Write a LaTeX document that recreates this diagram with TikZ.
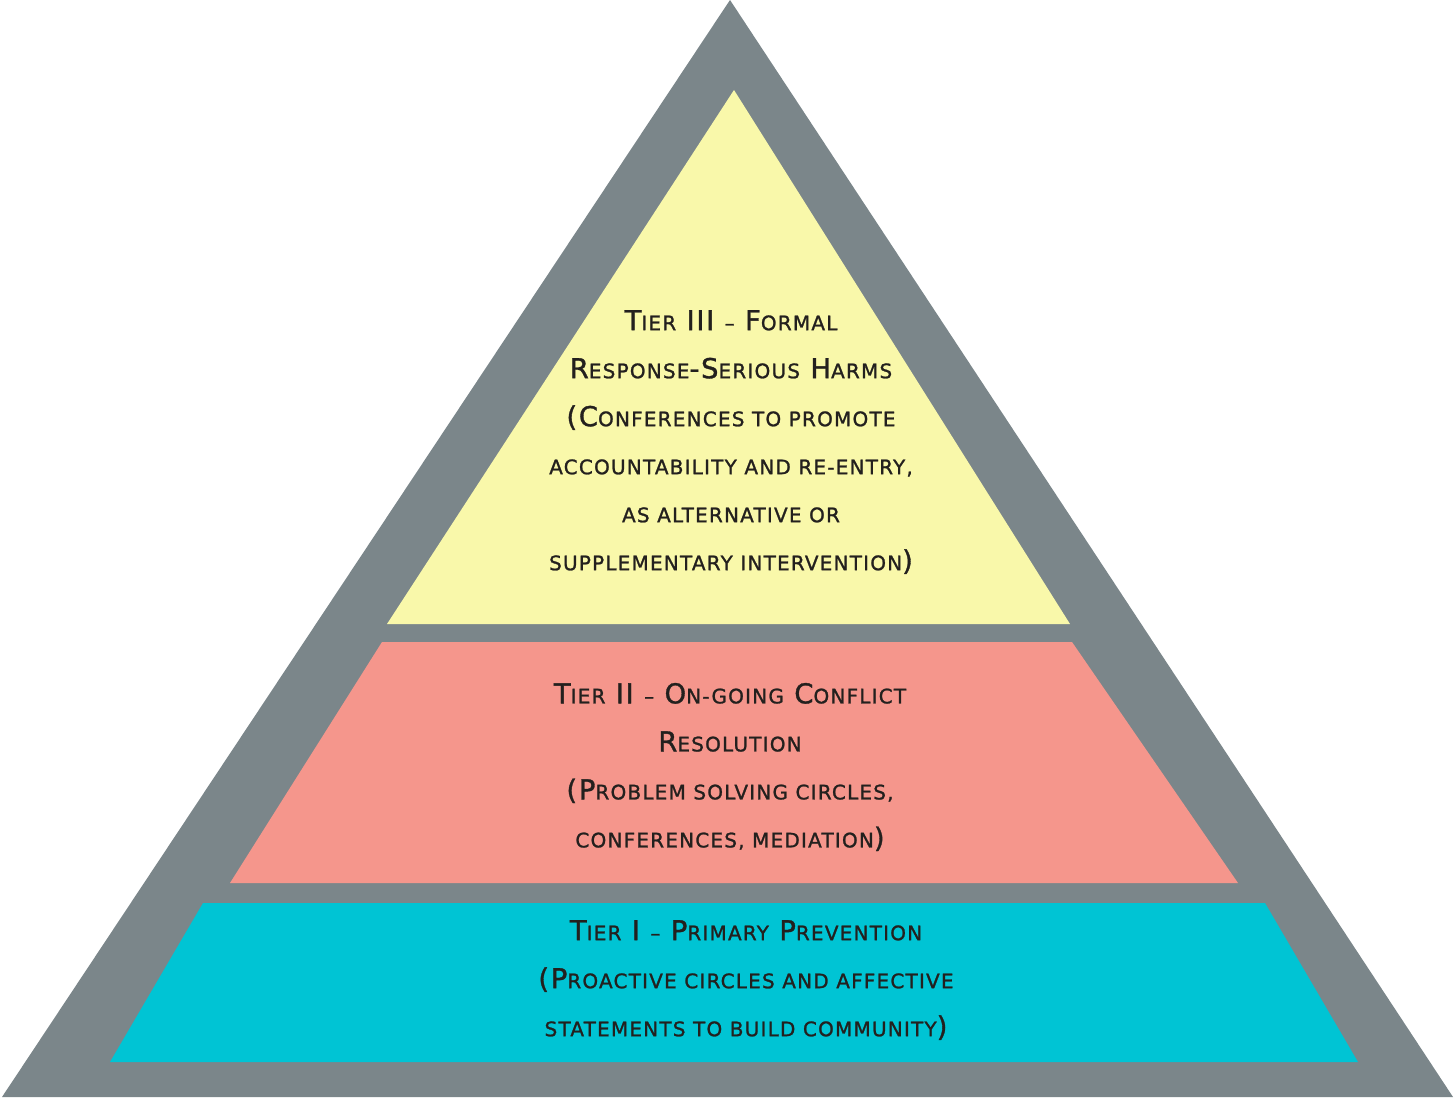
\documentclass[tikz,border=0pt]{standalone}
\usepackage{fontspec}
\newfontfamily\tierfont[FakeBold=1.2,LetterSpace=6]{DejaVu Sans}
\definecolor{pgray}{RGB}{123,134,138}
\definecolor{pyellow}{RGB}{249,248,170}
\definecolor{ppink}{RGB}{245,150,140}
\definecolor{pcyan}{RGB}{0,196,212}
\definecolor{ptext}{RGB}{35,32,30}
\newcommand\smc[1]{{\fontsize{20}{48}\selectfont #1}}
\tikzset{
  tiertext/.style={align=center, text=ptext, inner sep=0pt, font=\tierfont\fontsize{27.5}{48}\selectfont}
}
\begin{document}
\begin{tikzpicture}[x=1pt,y=-1pt]
\useasboundingbox (0,0) rectangle (1455,1099);
\fill[pgray] (730,0) -- (2,1097) -- (1453,1097) -- cycle;
\fill[pyellow] (734,90) -- (387,624) -- (1070,624) -- cycle;
\fill[ppink] (382,642) -- (1072,642) -- (1238,883) -- (230,883) -- cycle;
\fill[pcyan] (203,903) -- (1265,903) -- (1358,1062) -- (110,1062) -- cycle;
\node[tiertext] (t3) at (731,442) {%
T\smc{IER} III \smc{–} F\smc{ORMAL}\\
R\smc{ESPONSE}-S\smc{ERIOUS} H\smc{ARMS}\\
(C\smc{ONFERENCES TO PROMOTE}\\
\smc{ACCOUNTABILITY AND RE-ENTRY,}\\
\smc{AS ALTERNATIVE OR}\\
\smc{SUPPLEMENTARY INTERVENTION})};
\node[tiertext] (t2) at (730,767) {%
T\smc{IER} II \smc{–} O\smc{N-GOING} C\smc{ONFLICT}\\
R\smc{ESOLUTION}\hspace{20pt}\\
(P\smc{ROBLEM SOLVING CIRCLES,}\\
\smc{CONFERENCES, MEDIATION})};
\node[tiertext] (t1) at (746,980) {%
T\smc{IER} I \smc{–} P\smc{RIMARY} P\smc{REVENTION}\\
(P\smc{ROACTIVE CIRCLES AND AFFECTIVE}\\
\smc{STATEMENTS TO BUILD COMMUNITY})};
\end{tikzpicture}
\end{document}
